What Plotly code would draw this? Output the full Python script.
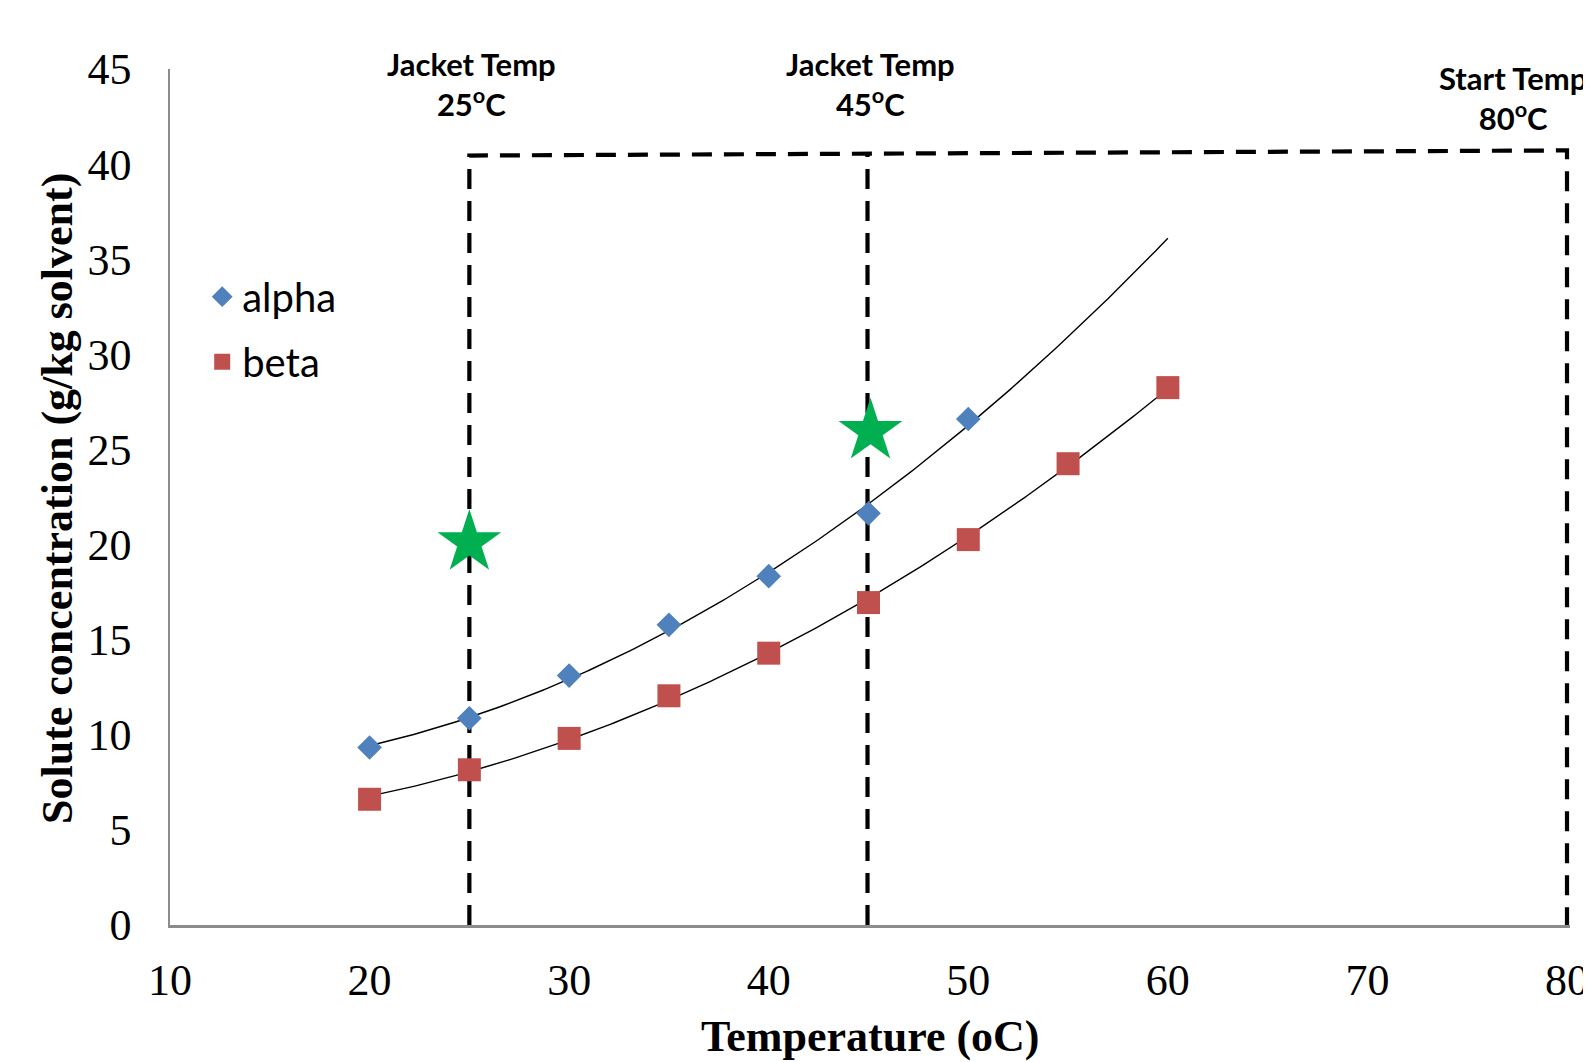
import numpy as np
import plotly.graph_objects as go

# ---- data ----
alpha_x = [20, 25, 30, 35, 40, 45, 50]
alpha_y = [9.33, 10.87, 13.11, 15.78, 18.34, 21.64, 26.6]
beta_x = [20, 25, 30, 35, 40, 45, 50, 55, 60]
beta_y = [6.61, 8.16, 9.81, 12.05, 14.29, 16.95, 20.26, 24.25, 28.25]
star_x = [25.0, 45.1]
star_y = [20.1, 25.95]
# dashed guide path: 25C jacket -> 80C start, and 45C jacket
box_x = [25, 25, 80, 80]
box_y = [0, 40.45, 40.72, 0]
mid_x = [44.95, 44.95]
mid_y = [0, 40.55]
x_ticks = [10, 20, 30, 40, 50, 60, 70, 80]
y_ticks = [0, 5, 10, 15, 20, 25, 30, 35, 40, 45]
labels = ["Jacket Temp<br>25<sup>o</sup>C", "Jacket Temp<br>45<sup>o</sup>C", "Start Temp<br>80<sup>o</sup>C"]
label_x = [25.1, 45.1, 77.3]
label_y = [44.2, 44.2, 43.45]
trend_end = 60

BLUE = "#4F81BD"
RED = "#C0504D"
GREEN = "#00B050"

fig = go.Figure()

# polynomial trendlines (order 2), fitted to the data
for xs, ys in ((alpha_x, alpha_y), (beta_x, beta_y)):
    c = np.polyfit(xs, ys, 2)
    tx = np.linspace(xs[0], trend_end, 200)
    fig.add_trace(go.Scatter(x=tx, y=np.polyval(c, tx), mode="lines",
                             line=dict(color="black", width=1.4),
                             showlegend=False, hoverinfo="skip"))

fig.add_trace(go.Scatter(x=box_x, y=box_y, mode="lines",
                         line=dict(color="black", width=4.2, dash="20px,12px"),
                         showlegend=False, hoverinfo="skip"))
fig.add_trace(go.Scatter(x=mid_x, y=mid_y, mode="lines",
                         line=dict(color="black", width=4.2, dash="20px,12px"),
                         showlegend=False, hoverinfo="skip"))

fig.add_trace(go.Scatter(x=alpha_x, y=alpha_y, mode="markers", name="alpha",
                         marker=dict(symbol="diamond", size=19, color=BLUE),
                         legendgroup="a"))
fig.add_trace(go.Scatter(x=beta_x, y=beta_y, mode="markers", name="beta",
                         marker=dict(symbol="square", size=23, color=RED),
                         legendgroup="b"))
fig.add_trace(go.Scatter(x=star_x, y=star_y, mode="markers",
                         marker=dict(symbol="star", size=48, color=GREEN),
                         showlegend=False, hoverinfo="skip"))

for t, x, y in zip(labels, label_x, label_y):
    fig.add_annotation(x=x, y=y, xref="x", yref="y", text=t, showarrow=False,
                       font=dict(family="Lato", size=31, color="black", weight="bold"),
                       align="center", xanchor="center", yanchor="middle")

fig.add_annotation(x=0.5, y=-0.130, xref="paper", yref="paper",
                   text="<b>Temperature (oC)</b>", showarrow=False,
                   font=dict(family="Liberation Serif", size=44, color="black"),
                   xanchor="center", yanchor="middle")
fig.add_annotation(x=-0.0805, y=0.498, xref="paper", yref="paper",
                   text="<b>Solute concentration (g/kg solvent)</b>", showarrow=False,
                   textangle=-90,
                   font=dict(family="Liberation Serif", size=44, color="black"),
                   xanchor="center", yanchor="middle")

fig.update_layout(
    width=1591, height=1062,
    margin=dict(l=162, r=29, t=61, b=145, autoexpand=False),
    plot_bgcolor="white", paper_bgcolor="white",
    legend=dict(x=0.023, y=0.772, xanchor="left", yanchor="top",
                font=dict(family="Lato", size=40, color="black"),
                tracegroupgap=10, traceorder="grouped",
                bgcolor="rgba(0,0,0,0)"),
    xaxis=dict(range=[10, 80.15], tickvals=x_ticks, ticks="", showgrid=False,
               zeroline=False, showline=True, linecolor="#8C8C8C", linewidth=2.5,
               tickfont=dict(family="Liberation Serif", size=44, color="black"),
               ticklabelstandoff=14),
    yaxis=dict(range=[0, 45], tickvals=y_ticks, ticks="", showgrid=False,
               zeroline=False, showline=True, linecolor="#8C8C8C", linewidth=1.5,
               tickfont=dict(family="Liberation Serif", size=44, color="black"),
               ticklabelstandoff=28),
)

fig.write_html("out.html")
